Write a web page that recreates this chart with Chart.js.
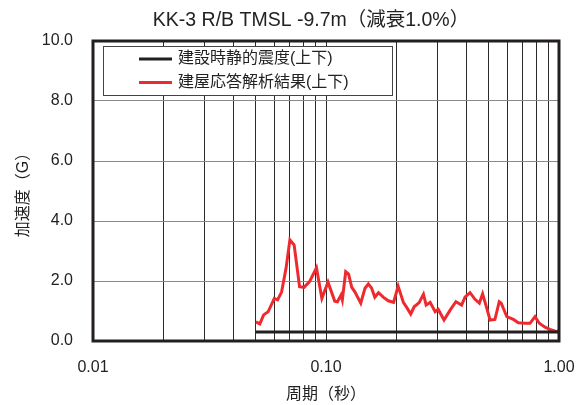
<!DOCTYPE html>
<html><head><meta charset="utf-8">
<script src="https://cdn.jsdelivr.net/npm/chart.js@4/dist/chart.umd.min.js"></script>
<style>html,body{margin:0;padding:0;background:#fff;}#wrap{width:582px;height:405px;}</style>
</head><body><div id="wrap"><canvas id="c" width="582" height="405"></canvas></div>
<script>
const titleText = 'KK-3 R/B TMSL -9.7m（減衰1.0%）';
const xAxisTitle = '周期（秒）';
const yAxisTitle = '加速度（G）';
const seriesNames = ['建設時静的震度(上下)', '建屋応答解析結果(上下)'];
const staticPeriods = [0.05, 1.0];
const staticAccel = [0.30, 0.30];
const responsePeriods = [0.050,0.052,0.054,0.0565,0.060,0.062,0.0645,0.0674,0.070,0.073,0.077,0.0805,0.085,0.091,0.096,0.102,0.109,0.112,0.116,0.1175,0.1215,0.125,0.129,0.133,0.141,0.147,0.152,0.157,0.162,0.168,0.176,0.185,0.195,0.204,0.215,0.222,0.231,0.239,0.251,0.262,0.269,0.280,0.294,0.303,0.321,0.341,0.361,0.382,0.395,0.415,0.436,0.455,0.470,0.490,0.506,0.531,0.554,0.565,0.597,0.637,0.669,0.715,0.751,0.789,0.823,0.871,0.915,0.977,1.0];
const responseAccel = [0.64,0.57,0.87,0.98,1.42,1.37,1.64,2.43,3.37,3.20,1.81,1.79,1.98,2.44,1.42,1.96,1.33,1.31,1.53,1.37,2.31,2.23,1.79,1.64,1.26,1.76,1.90,1.76,1.46,1.61,1.46,1.34,1.29,1.83,1.28,1.12,0.90,1.14,1.28,1.56,1.20,1.29,0.98,1.06,0.70,1.03,1.31,1.20,1.46,1.61,1.39,1.26,1.57,1.09,0.70,0.72,1.31,1.26,0.81,0.72,0.61,0.59,0.59,0.81,0.59,0.46,0.39,0.31,0.35];
const xMajorTicks = [0.01, 0.1, 1];
const xMinorSteps = [2,3,4,5,6,7,8,9];
const yMin = 0, yMax = 10, yStep = 2;

const FONT = '"Liberation Sans", "Noto Sans CJK JP", sans-serif';
const xTickValues = [];
xMajorTicks.forEach((d, i) => {
  xTickValues.push(d);
  if (i < xMajorTicks.length - 1) xMinorSteps.forEach(m => xTickValues.push(Number((m * d).toPrecision(6))));
});
const isMajor = v => xMajorTicks.some(m => Math.abs(m - v) < 1e-9);

const overlay = {
  id: 'overlay',
  afterDraw(chart) {
    const ctx = chart.ctx, a = chart.chartArea;
    ctx.save();
    ctx.strokeStyle = '#231f20';
    ctx.lineWidth = 3;
    ctx.strokeRect(a.left, a.top, a.right - a.left, a.bottom - a.top);
    ctx.fillStyle = '#222';
    ctx.font = '19.5px ' + FONT;
    ctx.textAlign = 'center';
    ctx.textBaseline = 'middle';
    ctx.fillText(titleText, 311, 21);
    const bx = 103, by = 46, bw = 289, bh = 49;
    ctx.fillStyle = '#fff';
    ctx.fillRect(bx, by, bw, bh);
    ctx.strokeStyle = '#444';
    ctx.lineWidth = 1;
    ctx.strokeRect(bx + 0.5, by + 0.5, bw, bh);
    chart.data.datasets.forEach((ds, i) => {
      const y = 59 + i * 23.5;
      ctx.strokeStyle = ds.borderColor;
      ctx.lineWidth = 3;
      ctx.beginPath(); ctx.moveTo(139, y); ctx.lineTo(172, y); ctx.stroke();
      ctx.fillStyle = '#222';
      ctx.font = '16px ' + FONT;
      ctx.textAlign = 'left';
      ctx.textBaseline = 'middle';
      ctx.fillText(ds.label, 178, y);
    });
    ctx.restore();
  }
};

new Chart(document.getElementById('c'), {
  type: 'line',
  data: {
    datasets: [
      { label: seriesNames[0], data: staticPeriods.map((x, i) => ({x, y: staticAccel[i]})), borderColor: '#231f20', borderWidth: 3, pointRadius: 0, tension: 0 },
      { label: seriesNames[1], data: responsePeriods.map((x, i) => ({x, y: responseAccel[i]})), borderColor: '#ee2a2f', borderWidth: 3, pointRadius: 0, tension: 0 }
    ]
  },
  options: {
    responsive: false, animation: false, devicePixelRatio: 1,
    layout: { padding: { left: 0, right: 23, top: 41, bottom: 0 } },
    plugins: { legend: { display: false }, title: { display: false }, tooltip: { enabled: false } },
    scales: {
      x: {
        type: 'logarithmic', min: 0.01, max: 1, position: 'bottom',
        afterBuildTicks: s => { s.ticks = xTickValues.map(v => ({ value: v, major: isMajor(v) })); },
        afterFit: s => { s.height = 64; s.paddingLeft = 0; s.paddingRight = 0; },
        ticks: { autoSkip: false, maxRotation: 0, minRotation: 0, padding: 17, color: '#222', font: { size: 16, family: FONT },
          callback: v => isMajor(v) ? v.toFixed(2) : '' },
        grid: { color: '#2a2a2a', lineWidth: 1, drawTicks: false },
        border: { display: false },
        title: { display: true, text: xAxisTitle, color: '#222', font: { size: 16, family: FONT }, padding: { top: 0, bottom: 1 } }
      },
      y: {
        type: 'linear', min: yMin, max: yMax,
        afterFit: s => { s.width = 93; s.paddingTop = 0; s.paddingBottom = 0; },
        ticks: { stepSize: yStep, padding: 20, color: '#222', font: { size: 16, family: FONT }, callback: v => v.toFixed(1) },
        grid: { color: '#8a8a8a', lineWidth: 1, drawTicks: false },
        border: { display: false },
        title: { display: true, text: yAxisTitle, color: '#222', font: { size: 16, family: FONT }, padding: { top: 14, bottom: 0 } }
      }
    }
  },
  plugins: [overlay]
});
</script></body></html>
